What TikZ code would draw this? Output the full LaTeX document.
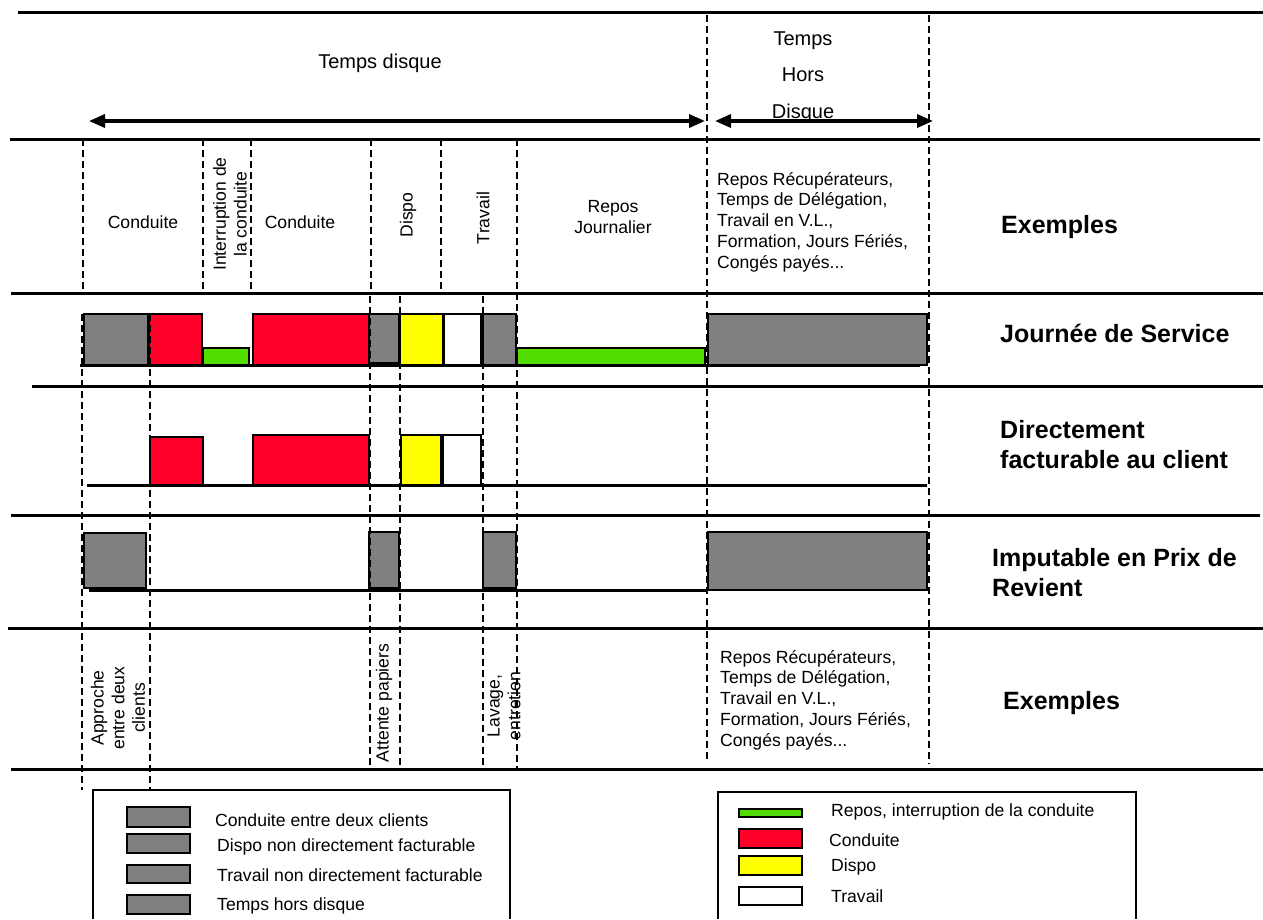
\documentclass[tikz,border=0pt]{standalone}
\usepackage{fontspec}
\setmainfont{Liberation Sans}
\usetikzlibrary{arrows.meta}

\definecolor{grisbox}{RGB}{128,128,128}
\definecolor{rougebox}{RGB}{255,0,40}
\definecolor{vertbox}{RGB}{82,221,0}
\definecolor{jaunebox}{RGB}{255,255,0}

\begin{document}
\begin{tikzpicture}[x=1pt,y=-1pt]
\useasboundingbox (0,0) rectangle (1263,919);
\begin{scope}[every node/.style={inner sep=0pt, font=\fontsize{17.6pt}{20.7pt}\selectfont},
    trait/.style={line width=3pt},
    pointille/.style={line width=2.3pt, dash pattern=on 7pt off 4pt},
    boite/.style={draw, line width=1.6pt},
    titre/.style={font=\fontsize{25pt}{30pt}\selectfont\bfseries, align=left, anchor=west},
    entete/.style={font=\fontsize{20pt}{36.5pt}\selectfont, align=center},
    fleche/.style={line width=3.4pt, {Triangle[length=16pt,width=13pt]}-{Triangle[length=16pt,width=13pt]}}]

    \draw [trait] (18,12) -- (1263,12);
    \draw [trait] (10,139) -- (1260,139);
    \draw [trait] (11,293) -- (1263,293);
    \draw [trait] (32,386) -- (1263,386);
    \draw [trait] (11,515) -- (1260,515);
    \draw [trait] (8,628) -- (1263,628);
    \draw [trait] (11,769) -- (1263,769);

    \draw [trait] (80,365) -- (920,365);
    \draw [trait] (87,485) -- (927,485);
    \draw [trait] (89,590) -- (707,590);

    \filldraw [boite, fill=grisbox] (84,314) rectangle (148,365);
    \filldraw [boite, fill=rougebox] (149,314) rectangle (202,365);
    \filldraw [boite, fill=vertbox] (203,348) rectangle (249,365);
    \filldraw [boite, fill=rougebox] (253,314) rectangle (369,365);
    \filldraw [boite, fill=grisbox] (369,314) rectangle (399,363);
    \filldraw [boite, fill=jaunebox] (400,314) rectangle (443,365);
    \filldraw [boite, fill=white] (444,314) rectangle (481,365);
    \filldraw [boite, fill=grisbox] (483,314) rectangle (516,365);
    \filldraw [boite, fill=vertbox] (517,348) rectangle (705,365);
    \filldraw [boite, fill=grisbox] (708,314) rectangle (927,365);

    \filldraw [boite, fill=rougebox] (150,437) rectangle (203,485);
    \filldraw [boite, fill=rougebox] (253,435) rectangle (369,485);
    \filldraw [boite, fill=jaunebox] (401,435) rectangle (441,485);
    \filldraw [boite, fill=white] (443,435) rectangle (481,485);

    \filldraw [boite, fill=grisbox] (84,533) rectangle (146,588);
    \filldraw [boite, fill=grisbox] (369,532) rectangle (399,588);
    \filldraw [boite, fill=grisbox] (483,532) rectangle (516,588);
    \filldraw [boite, fill=grisbox] (708,532) rectangle (927,590);

    \draw [pointille] (83,139) -- (83,293);
    \draw [pointille] (82,314) -- (82,790);
    \draw [pointille] (150,314) -- (150,790);
    \draw [pointille] (203,139) -- (203,293);
    \draw [pointille] (251,139) -- (251,293);
    \draw [pointille] (371,139) -- (371,290);
    \draw [pointille] (370,296) -- (370,769);
    \draw [pointille] (400,296) -- (400,769);
    \draw [pointille] (441,139) -- (441,293);
    \draw [pointille] (483,296) -- (483,769);
    \draw [pointille] (517,139) -- (517,769);
    \draw [pointille] (707,15) -- (707,762);
    \draw [pointille] (929,15) -- (929,764);

    \coordinate (disqueG) at (89,121);
    \coordinate (disqueD) at (705,121);
    \coordinate (horsG) at (715,121);
    \coordinate (horsD) at (933,121);
    \draw [fleche] (disqueG) -- (disqueD);
    \draw [fleche] (horsG) -- (horsD);

    \node [entete] (tdisque) at (380,63) {Temps disque};
    \node [entete] (thors) at (803,77) {Temps\\Hors\\Disque};

    \node (cond1) at (143,222) {Conduite};
    \node [rotate=90, align=center] (interr) at (230,214) {Interruption de\\la conduite};
    \node (cond2) at (300,222) {Conduite};
    \node [rotate=90] (dispo) at (408,215) {Dispo};
    \node [rotate=90] (travail) at (483,218) {Travail};
    \node [align=center] (repos) at (613,217) {Repos\\Journalier};
    \node [align=left, anchor=west] (exh) at (717,222) {Repos Récupérateurs,\\Temps de Délégation,\\Travail en V.L.,\\Formation, Jours Fériés,\\Congés payés...};
    \node [titre] (exhtitre) at (1001,227) {Exemples};

    \node [titre] (journee) at (1000,333) {Journée de Service};
    \node [titre] (direct) at (1000,445) {Directement\\facturable au client};
    \node [titre] (imput) at (992,573) {Imputable en Prix de\\Revient};

    \node [rotate=90, align=center] (approche) at (118,708) {Approche\\entre deux\\clients};
    \node [rotate=90] (attente) at (384,703) {Attente papiers};
    \node [rotate=90, align=center] (lavage) at (504,706) {Lavage,\\entretien};
    \node [align=left, anchor=west] (exb) at (720,700) {Repos Récupérateurs,\\Temps de Délégation,\\Travail en V.L.,\\Formation, Jours Fériés,\\Congés payés...};
    \node [titre] (exbtitre) at (1003,703) {Exemples};

    \draw [line width=1.3pt] (93,919) -- (93,790) -- (510,790) -- (510,919);
    \filldraw [boite, fill=grisbox] (127,807) rectangle (190,827);
    \filldraw [boite, fill=grisbox] (127,834) rectangle (190,853);
    \filldraw [boite, fill=grisbox] (127,865) rectangle (190,883);
    \filldraw [boite, fill=grisbox] (127,895) rectangle (190,914);
    \node [anchor=west] (leg1) at (215,820) {Conduite entre deux clients};
    \node [anchor=west] (leg2) at (217,847) {Dispo non directement facturable};
    \node [anchor=west] (leg3) at (217,875) {Travail non directement facturable};
    \node [anchor=west] (leg4) at (217,906) {Temps hors disque};

    \draw [line width=1.3pt] (718,919) -- (718,792) -- (1136,792) -- (1136,919);
    \filldraw [boite, fill=vertbox] (739,809) rectangle (802,817);
    \filldraw [boite, fill=rougebox] (739,829) rectangle (802,848);
    \filldraw [boite, fill=jaunebox] (739,856) rectangle (802,875);
    \filldraw [boite, fill=white] (739,887) rectangle (802,905);
    \node [anchor=west] (leg5) at (831,812) {Repos, interruption de la conduite};
    \node [anchor=west] (leg6) at (829,840) {Conduite};
    \node [anchor=west] (leg7) at (831,867) {Dispo};
    \node [anchor=west] (leg8) at (831,896) {Travail};

\end{scope}

\end{tikzpicture}
\end{document}
